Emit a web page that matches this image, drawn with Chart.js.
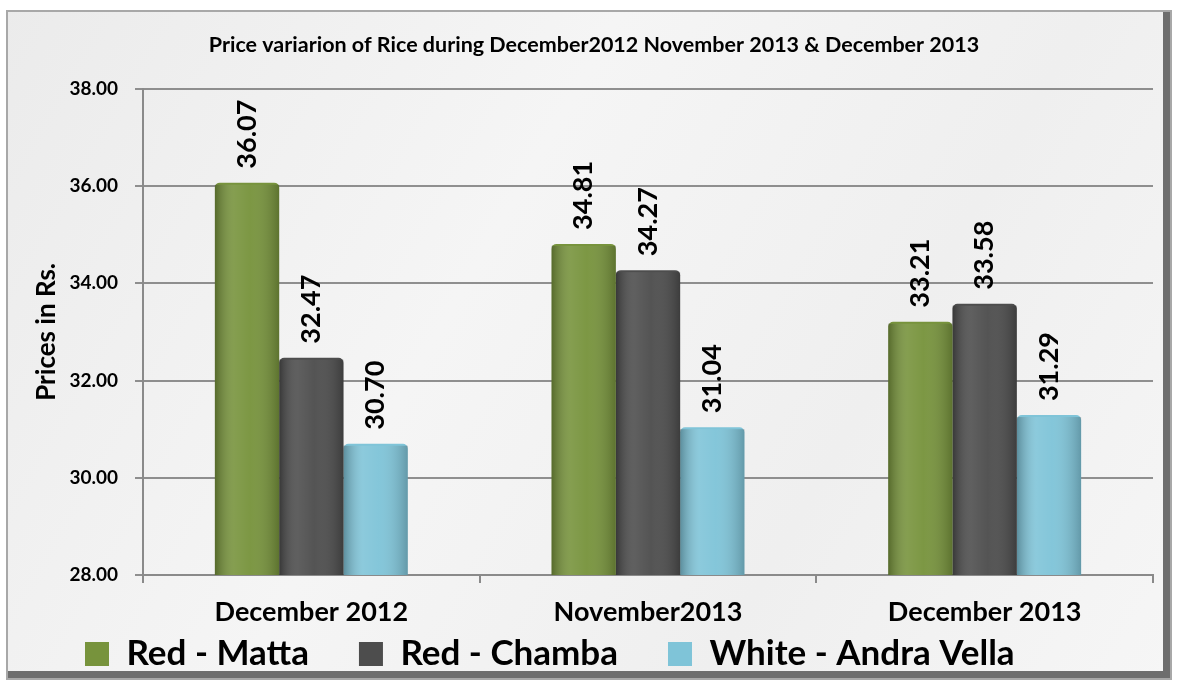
<!DOCTYPE html>
<html lang="en">
<head>
    <meta charset="UTF-8">
    <title>Price variation of Rice</title>
    <style>
        html, body { margin: 0; padding: 0; background: #fff; }
        #box { width: 1178px; height: 687px; }
    </style>
</head>
<body>
    <div id="box"><canvas id="grafico" width="1178" height="687"></canvas></div>

    <script src="https://cdn.jsdelivr.net/npm/chart.js"></script>
    <script>
        // dati
        const mesi = ['December 2012', 'November2013', 'December 2013'];
        const redMatta = [36.07, 34.81, 33.21];
        const redChamba = [32.47, 34.27, 33.58];
        const whiteAndra = [30.70, 31.04, 31.29];
        const nomiSerie = ['Red - Matta', 'Red - Chamba', 'White - Andra Vella'];
        const coloriSerie = ['#77933c', '#4d4d4d', '#7fc4d8'];
        const titolo = 'Price variarion of Rice during December2012 November 2013 & December 2013';
        const titoloAsse = 'Prices in Rs.';

        const FONT = 'Lato';
        const LEGEND_PAD = 50;
        const LEGEND_FONT = 35;

        // sfondo tipo marmo + cornice; sposta la legenda sotto le etichette
        const sfondo = {
            id: 'sfondo',
            beforeDraw(chart) {
                const leg = chart.legend;
                if (leg) {
                    leg.top = 654 - LEGEND_PAD - LEGEND_FONT / 2;
                    leg.bottom = chart.height;
                }
                const ctx = chart.ctx;
                ctx.save();
                ctx.fillStyle = '#ffffff';
                ctx.fillRect(0, 0, chart.width, chart.height);
                const g = ctx.createLinearGradient(0, 10, 1172, 680);
                g.addColorStop(0, '#ebebeb');
                g.addColorStop(0.4, '#f5f5f5');
                g.addColorStop(0.7, '#efefef');
                g.addColorStop(1, '#f6f6f6');
                ctx.fillStyle = g;
                ctx.fillRect(6, 10, 1166, 670);
                ctx.fillStyle = '#6e6e6e';
                ctx.fillRect(1163, 10, 9, 670);
                ctx.fillRect(6, 671, 1166, 9);
                ctx.strokeStyle = '#a8a8a8';
                ctx.lineWidth = 2;
                ctx.strokeRect(7, 11, 1164, 668);
                ctx.restore();
            }
        };

        // effetto cilindro + etichette dei valori
        const barre3d = {
            id: 'barre3d',
            afterDatasetsDraw(chart) {
                const ctx = chart.ctx;
                const fondo = chart.chartArea.bottom;
                chart.data.datasets.forEach((ds, i) => {
                    const meta = chart.getDatasetMeta(i);
                    meta.data.forEach((bar, j) => {
                        const left = bar.x - bar.width / 2;
                        const right = bar.x + bar.width / 2;
                        const g = ctx.createLinearGradient(left, 0, right, 0);
                        g.addColorStop(0, 'rgba(0,0,0,0.28)');
                        g.addColorStop(0.3, 'rgba(255,255,255,0.10)');
                        g.addColorStop(0.55, 'rgba(255,255,255,0.04)');
                        g.addColorStop(1, 'rgba(0,0,0,0.22)');
                        ctx.save();
                        ctx.fillStyle = g;
                        ctx.fillRect(left, bar.y + 2, bar.width, fondo - bar.y - 2);
                        ctx.restore();

                        ctx.save();
                        ctx.translate(bar.x, bar.y - 14);
                        ctx.rotate(-Math.PI / 2);
                        ctx.font = 'bold 27px ' + FONT;
                        ctx.fillStyle = '#000';
                        ctx.textAlign = 'left';
                        ctx.textBaseline = 'middle';
                        ctx.fillText(ds.data[j].toFixed(2), 0, 0);
                        ctx.restore();
                    });
                });
            }
        };

        const serie = [redMatta, redChamba, whiteAndra];
        const ctx = document.getElementById('grafico').getContext('2d');
        const grafico = new Chart(ctx, {
            type: 'bar',
            data: {
                labels: mesi,
                datasets: serie.map((dati, i) => ({
                    label: nomiSerie[i],
                    data: dati,
                    backgroundColor: coloriSerie[i],
                    borderWidth: 0,
                    borderRadius: { topLeft: 5, topRight: 5 },
                    borderSkipped: 'bottom',
                    barPercentage: 1,
                    categoryPercentage: 0.573
                }))
            },
            options: {
                responsive: false,
                animation: false,
                layout: { padding: { left: 35, right: 25, top: 0, bottom: 5 } },
                plugins: {
                    title: {
                        display: true,
                        text: titolo,
                        color: '#000',
                        font: { family: FONT, size: 21.5, weight: 'bold' },
                        padding: { top: 32, bottom: 31 }
                    },
                    legend: {
                        position: 'bottom',
                        align: 'start',
                        maxHeight: 51,
                        labels: {
                            color: '#000',
                            boxWidth: 24,
                            boxHeight: 24,
                            padding: LEGEND_PAD,
                            font: { family: FONT, size: LEGEND_FONT, weight: 'bold' }
                        }
                    },
                    tooltip: { enabled: false }
                },
                scales: {
                    x: {
                        afterFit(scale) { scale.height = 56; },
                        grid: { drawOnChartArea: false, tickLength: 8, color: '#8a8a8a', lineWidth: 2 },
                        border: { color: '#8a8a8a', width: 2 },
                        ticks: {
                            color: '#000',
                            padding: 13,
                            maxRotation: 0,
                            font: { family: FONT, size: 27, weight: 'bold' }
                        }
                    },
                    y: {
                        min: 28,
                        max: 38,
                        afterFit(scale) { scale.width = 108; },
                        grid: { color: 'rgba(125,125,125,0.85)', lineWidth: 2, tickLength: 8 },
                        border: { color: '#8a8a8a', width: 2 },
                        ticks: {
                            stepSize: 2,
                            color: '#000',
                            padding: 17,
                            font: { family: FONT, size: 19, weight: 'bold' },
                            callback: v => v.toFixed(2)
                        },
                        title: {
                            display: true,
                            text: titoloAsse,
                            color: '#000',
                            font: { family: FONT, size: 26, weight: 'bold' },
                            padding: { top: -4, bottom: 0 }
                        }
                    }
                }
            },
            plugins: [sfondo, barre3d]
        });
    </script>
</body>
</html>
